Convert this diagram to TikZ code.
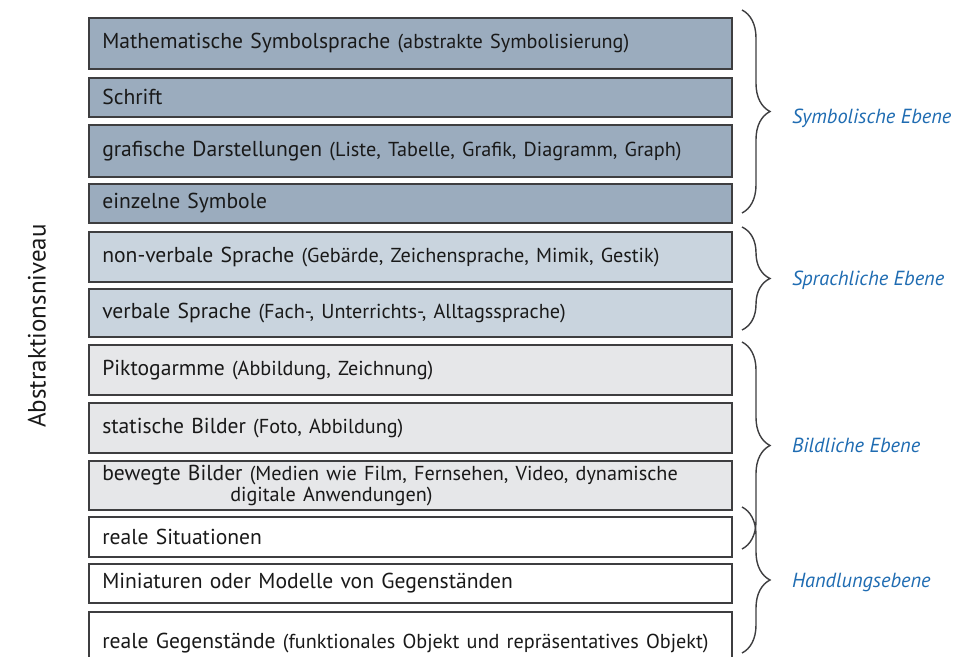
\documentclass[tikz,border=0pt]{standalone}
\usepackage{fontspec}
\setmainfont{PT Sans}
\usepackage{xcolor}
\usetikzlibrary{decorations.pathreplacing}

\definecolor{symb}{RGB}{155,172,190}
\definecolor{sprach}{RGB}{201,212,222}
\definecolor{bild}{RGB}{230,231,233}
\definecolor{ebene}{RGB}{31,108,178}
\definecolor{rand}{RGB}{62,62,64}

\tikzset{
  stufe/.style={draw=rand, line width=0.8pt, anchor=north west,
    minimum width=321.5pt, text width=308pt, inner xsep=6.5pt, inner ysep=1pt,
    align=left, text=black!90, font=\fontsize{10.8}{9}\selectfont},
  klammer/.style={draw=rand, line width=0.7pt, decorate,
    decoration={brace, amplitude=14pt}},
  ebenetext/.style={anchor=west, text=ebene, font=\fontsize{10.2}{12}\selectfont\itshape}
}
\newcommand{\zusatz}[1]{{\fontsize{10.1}{9}\selectfont #1}}

\begin{document}
\begin{tikzpicture}[x=0.5pt, y=-0.5pt]

\clip (0,0) rectangle (958,657);
\fill[white] (0,0) rectangle (958,657);

\node[rotate=90, font=\fontsize{12.5}{14}\selectfont, text=black!90] (niveau) at (37,326) {Abstraktionsniveau};

\node[stufe, fill=symb, minimum height=25.5pt] (b1) at (88,17) {Mathematische Symbolsprache \zusatz{(abstrakte Symbolisierung)}};
\node[stufe, fill=symb, minimum height=19.5pt] (b2) at (88,77) {Schrift};
\node[stufe, fill=symb, minimum height=26pt] (b3) at (88,124) {grafische Darstellungen \zusatz{(Liste, Tabelle, Grafik, Diagramm, Graph)}};
\node[stufe, fill=symb, minimum height=19.5pt] (b4) at (88,183) {einzelne Symbole};

\node[stufe, fill=sprach, minimum height=25pt] (b5) at (88,231) {non-verbale Sprache \zusatz{(Gebärde, Zeichensprache, Mimik, Gestik)}};
\node[stufe, fill=sprach, minimum height=24pt] (b6) at (88,288) {verbale Sprache \zusatz{(Fach-, Unterrichts-, Alltagssprache)}};

\node[stufe, fill=bild, minimum height=25pt] (b7) at (88,344) {Piktogarmme \zusatz{(Abbildung, Zeichnung)}};
\node[stufe, fill=bild, minimum height=25pt] (b8) at (88,402) {statische Bilder \zusatz{(Foto, Abbildung)}};
\node[stufe, fill=bild, minimum height=24.5pt] (b9) at (88,460) {bewegte Bilder \zusatz{(Medien wie Film, Fernsehen, Video, dynamische\\\hspace*{64pt}digitale Anwendungen)}};

\node[stufe, fill=white, minimum height=20pt] (b10) at (88,516) {reale Situationen};
\node[stufe, fill=white, minimum height=19.5pt] (b11) at (88,563) {Miniaturen oder Modelle von Gegenständen};
\node[stufe, fill=white, minimum height=31pt] (b12) at (88,611) {reale Gegenstände \zusatz{(funktionales Objekt und repräsentatives Objekt)}};

\coordinate (s1) at (742,10);
\coordinate (s2) at (742,213);
\coordinate (p1) at (742,227);
\coordinate (p2) at (742,330);
\coordinate (i1) at (742,342);
\coordinate (i2) at (742,549);
\coordinate (h1) at (742,507);
\coordinate (h2) at (742,653);

\draw[klammer] (s1) -- (s2);
\draw[klammer] (p1) -- (p2);
\draw[klammer] (i1) -- (i2);
\draw[klammer] (h1) -- (h2);

\node[ebenetext] (symbolisch) at (785,118) {Symbolische Ebene};
\node[ebenetext] (sprachlich) at (785,280) {Sprachliche Ebene};
\node[ebenetext] (bildlich) at (785,445) {Bildliche Ebene};
\node[ebenetext] (handlung) at (785,583) {Handlungsebene};

\end{tikzpicture}
\end{document}
